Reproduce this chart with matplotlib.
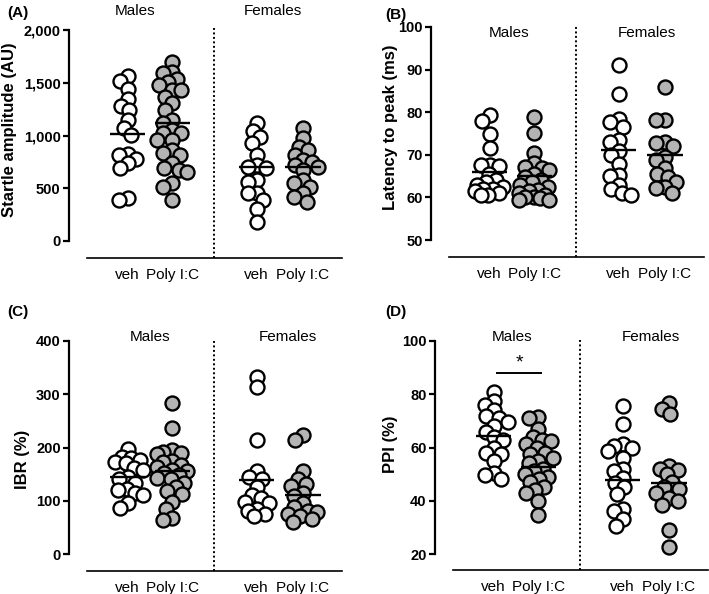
import numpy as np
import matplotlib
matplotlib.use("Agg")
import matplotlib.pyplot as plt
from matplotlib.ticker import FuncFormatter

plt.rcParams['font.family'] = ['Liberation Sans', 'DejaVu Sans']

# ------------------------------------------------------------------------------
# data
groups = ['veh', 'Poly I:C', 'veh', 'Poly I:C']
sexes = ['Males', 'Females']

# (A) startle amplitude (AU)
startle = [
    [1520, 1564, 1438, 1346, 1283, 1240, 1147, 1068, 1005, 815, 825, 780, 736, 689, 389, 408],
    [1697, 1605, 1589, 1510, 1532, 1479, 1430, 1431, 1368, 1305, 1242, 1147, 1115, 1020, 1052,
     1021, 957, 957, 863, 815, 830, 736, 673, 689, 657, 547, 515, 389],
    [1122, 1043, 983, 932, 815, 705, 720, 689, 562, 578, 452, 458, 389, 300, 183],
    [1068, 973, 894, 863, 815, 768, 752, 720, 705, 673, 578, 553, 515, 452, 414, 373],
]
startle_means = [1015, 1115, 700, 700]

# (B) latency to peak (ms)
latency = [
    [79.3, 78.0, 75.0, 71.5, 67.5, 67.4, 67.6, 65.5, 64.0, 63.5, 63.0, 62.5, 62.0, 62.0,
     61.5, 61.0, 60.5, 60.5],
    [78.8, 75.2, 70.5, 68.0, 67.2, 66.8, 66.5, 65.5, 64.8, 64.0, 63.0, 62.5, 63.5, 61.8,
     61.5, 61.0, 60.5, 60.2, 60.0, 59.8, 59.5, 59.5],
    [91.0, 84.3, 78.4, 77.6, 76.5, 73.5, 73.0, 71.0, 70.0, 67.8, 65.3, 65.0, 63.0, 62.0,
     61.0, 60.5],
    [86.0, 78.2, 78.2, 73.0, 72.8, 72.0, 69.5, 68.8, 66.8, 65.6, 64.8, 63.7, 62.5, 62.1, 61.0],
]
latency_means = [65.9, 65.0, 71.1, 70.0]

# (C) IBR (%)
ibr = [
    [197, 183, 181, 176, 172, 170, 162, 158, 145, 140, 133, 123, 120, 115, 110, 95, 86],
    [283, 237, 196, 192, 189, 187, 175, 172, 168, 163, 158, 155, 152, 148, 142, 140, 133,
     125, 118, 112, 98, 85, 67, 64],
    [333, 313, 214, 155, 145, 140, 125, 110, 105, 98, 95, 85, 80, 75, 72],
    [224, 215, 155, 140, 132, 128, 115, 108, 95, 88, 80, 78, 75, 72, 65, 60],
]
ibr_means = [145, 155, 139, 110]

# (D) PPI (%)
ppi = [
    [81, 77.5, 76, 74, 72, 71, 69.5, 68, 66, 64, 63, 60, 58, 57.5, 55, 50.5, 49.5, 48],
    [71.5, 71.2, 67, 64, 63, 62.5, 61.5, 60, 58, 57.5, 56, 55, 54, 52, 51, 50, 49, 48,
     47, 45, 44, 43, 40, 34.5],
    [75.5, 68.8, 61.2, 60.5, 59.8, 58.5, 56, 52, 51, 48.5, 46.5, 45, 42.5, 37, 36, 33, 30.5],
    [76.8, 74.5, 72.5, 53, 52, 51.5, 50, 47, 45, 44.5, 43, 41, 40, 38.5, 29, 22.5],
]
ppi_means = [64.5, 52.7, 47.7, 46.8]

# ------------------------------------------------------------------------------
W, H = 709, 594
fig = plt.figure(figsize=(W / 100, H / 100), dpi=100)

xpos = [1.2, 2.12, 3.85, 4.8]
fills = ['white', '#b4b4b4', 'white', '#b4b4b4']
MS = 14.0      # marker diameter, px


def fx(px):
    return px / W


def fy(py):
    return 1 - py / H


def swarm(ax, x0, values, dmin=9.0, maxw=15):
    # simple beeswarm in pixel space
    tr = ax.transData
    placed = []
    xs = []
    for v in values:
        cx, cy = tr.transform((x0, v))
        best, best_score = None, None
        for off in sorted(np.arange(-maxw, maxw + 0.5, 1.0), key=abs):
            if placed:
                d = min(np.hypot(cx + off - px, cy - py) for px, py in placed)
            else:
                d = 99
            if d >= dmin:
                best = off
                break
            if best_score is None or d > best_score:
                best_score, best = d, off
        placed.append((cx + best, cy))
        xs.append(tr.inverted().transform((cx + best, cy))[0])
    return xs


def panel(spine_x, top_px, bot_px, base_px, ylo, yhi, step, data, means,
          ylabel, ylab_xy, letter, letter_xy, sex_y, sex_x, fmt=None):
    ax_top = top_px - 14
    ax = fig.add_axes([fx(spine_x), fy(base_px), 273 / W, (base_px - ax_top) / H])
    scale = (bot_px - top_px) / (yhi - ylo)
    ax.set_ylim(ylo - (base_px - bot_px) / scale, yhi + (top_px - ax_top) / scale)
    ax.set_xlim(0, 5.6)
    for s in ['top', 'right']:
        ax.spines[s].set_visible(False)
    ax.spines['left'].set_bounds(ylo, yhi)
    ax.spines['bottom'].set_bounds(0.36, 5.6)
    ax.spines['left'].set_linewidth(1.6)
    ax.spines['bottom'].set_linewidth(1.2)
    ax.set_yticks(np.arange(ylo, yhi + step / 2, step))
    if fmt:
        ax.yaxis.set_major_formatter(FuncFormatter(fmt))
    ax.tick_params(axis='y', length=4, width=1.6, pad=2, labelsize=10.5)
    for t in ax.get_yticklabels():
        t.set_fontweight('bold')
    ax.set_xticks(xpos)
    ax.set_xticklabels(groups, fontsize=11)
    ax.tick_params(axis='x', length=0, pad=7)
    ax.patch.set_alpha(0)

    # dotted divider
    lo, hi = ax.get_ylim()
    ax.plot([2.97, 2.97], [lo, yhi + (hi - yhi) * 0.15], ls=(0, (1, 1.3)), lw=1.4,
            color='black', clip_on=False)

    for i, vals in enumerate(data):
        ys = sorted(vals, reverse=True)
        xs = swarm(ax, xpos[i], ys)
        ax.scatter(xs, ys, s=(MS * 0.72) ** 2, facecolor=fills[i],
                   edgecolor='black', linewidth=1.7, zorder=3, clip_on=False)
        ax.plot([xpos[i] - 0.36, xpos[i] + 0.36], [means[i], means[i]], color='black',
                lw=1.7, zorder=4, solid_capstyle='butt')

    fig.text(fx(ylab_xy[0]), fy(ylab_xy[1]), ylabel, rotation=90, ha='center', va='center',
             fontsize=12, fontweight='bold')
    fig.text(fx(letter_xy[0]), fy(letter_xy[1]), letter, ha='center', va='center',
             fontsize=11, fontweight='bold')
    fig.text(fx(sex_x[0]), fy(sex_y), sexes[0], ha='center', va='center', fontsize=11)
    fig.text(fx(sex_x[1]), fy(sex_y), sexes[1], ha='center', va='center', fontsize=11)
    return ax


panel(69, 30, 241, 258, 0, 2000, 500, startle, startle_means,
      'Startle amplitude (AU)', (10, 130), '(A)', (18, 13), 11, (135, 273),
      fmt=lambda v, p: f'{v:,.0f}')
panel(431, 27, 240, 257, 50, 100, 10, latency, latency_means,
      'Latency to peak (ms)', (390, 127), '(B)', (396, 15), 33, (509, 647))
panel(69, 341, 554, 571, 0, 400, 100, ibr, ibr_means,
      'IBR (%)', (22, 459), '(C)', (18, 312), 337, (150, 288))
axd = panel(435, 341, 554, 570, 20, 100, 20, ppi, ppi_means,
            'PPI (%)', (391, 444), '(D)', (396, 312), 337, (512, 651))

# significance bar
axd.plot([1.27, 2.18], [88, 88], color='black', lw=1.4)
axd.text(1.725, 88.5, '*', ha='center', va='bottom', fontsize=14)

fig.savefig('out.png', dpi=100)
